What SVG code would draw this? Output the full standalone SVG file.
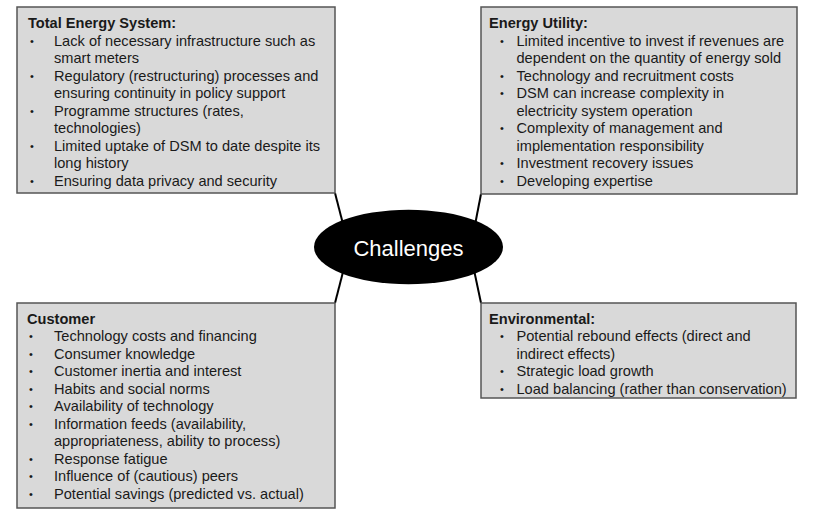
<svg xmlns="http://www.w3.org/2000/svg" width="813" height="520" viewBox="0 0 813 520">
<style>
.box{fill:#d9d9d9;stroke:#555;stroke-width:1.5}
text{font-family:"Liberation Sans",Arial,sans-serif;font-size:14.6px;fill:#1a1a1a}
.t{font-weight:bold}
.b{font-size:11px}
.conn{stroke:#000;stroke-width:2;fill:none}
.c{fill:#fff;font-size:22px;text-anchor:middle}
</style>
<rect width="813" height="520" fill="#fff"/>
<g id="connectors">
<line class="conn" x1="335" y1="193" x2="343" y2="224"/>
<line class="conn" x1="481" y1="194" x2="474" y2="230"/>
<line class="conn" x1="335" y1="303" x2="343" y2="272"/>
<line class="conn" x1="481" y1="303" x2="474" y2="270"/>
</g>
<g id="challenges">
<ellipse cx="408.5" cy="247" rx="94.5" ry="37.3" fill="#000"/>
<text class="c" x="408.5" y="256">Challenges</text>
</g>
<g id="total-energy-system">
<rect class="box" x="17" y="7" width="318" height="186"/>
<text class="t" x="28" y="28">Total Energy System:</text>
<text class="b" x="30" y="44.5">•</text><text x="54" y="45.5">Lack of necessary infrastructure such as</text>
<text x="54" y="63">smart meters</text>
<text class="b" x="30" y="79.5">•</text><text x="54" y="80.5">Regulatory (restructuring) processes and</text>
<text x="54" y="98">ensuring continuity in policy support</text>
<text class="b" x="30" y="114.5">•</text><text x="54" y="115.5">Programme structures (rates,</text>
<text x="54" y="133">technologies)</text>
<text class="b" x="30" y="149.5">•</text><text x="54" y="150.5">Limited uptake of DSM to date despite its</text>
<text x="54" y="168">long history</text>
<text class="b" x="30" y="184.5">•</text><text x="54" y="185.5">Ensuring data privacy and security</text>
</g>
<g id="energy-utility">
<rect class="box" x="481" y="7" width="316" height="187"/>
<text class="t" x="489" y="28">Energy Utility:</text>
<text class="b" x="500" y="44.5">•</text><text x="516.5" y="45.5">Limited incentive to invest if revenues are</text>
<text x="516.5" y="63">dependent on the quantity of energy sold</text>
<text class="b" x="500" y="79.5">•</text><text x="516.5" y="80.5">Technology and recruitment costs</text>
<text class="b" x="500" y="97">•</text><text x="516.5" y="98">DSM can increase complexity in</text>
<text x="516.5" y="115.5">electricity system operation</text>
<text class="b" x="500" y="132">•</text><text x="516.5" y="133">Complexity of management and</text>
<text x="516.5" y="150.5">implementation responsibility</text>
<text class="b" x="500" y="167">•</text><text x="516.5" y="168">Investment recovery issues</text>
<text class="b" x="500" y="184.5">•</text><text x="516.5" y="185.5">Developing expertise</text>
</g>
<g id="customer">
<rect class="box" x="17" y="303" width="318" height="205"/>
<text class="t" x="27" y="323.5">Customer</text>
<text class="b" x="29" y="340">•</text><text x="54" y="341">Technology costs and financing</text>
<text class="b" x="29" y="357.5">•</text><text x="54" y="358.5">Consumer knowledge</text>
<text class="b" x="29" y="375">•</text><text x="54" y="376">Customer inertia and interest</text>
<text class="b" x="29" y="392.5">•</text><text x="54" y="393.5">Habits and social norms</text>
<text class="b" x="29" y="410">•</text><text x="54" y="411">Availability of technology</text>
<text class="b" x="29" y="427.5">•</text><text x="54" y="428.5">Information feeds (availability,</text>
<text x="54" y="446">appropriateness, ability to process)</text>
<text class="b" x="29" y="462.5">•</text><text x="54" y="463.5">Response fatigue</text>
<text class="b" x="29" y="480">•</text><text x="54" y="481">Influence of (cautious) peers</text>
<text class="b" x="29" y="497.5">•</text><text x="54" y="498.5">Potential savings (predicted vs. actual)</text>
</g>
<g id="environmental">
<rect class="box" x="481" y="303" width="315" height="95"/>
<text class="t" x="489" y="323.5">Environmental:</text>
<text class="b" x="500" y="340">•</text><text x="516.5" y="341">Potential rebound effects (direct and</text>
<text x="516.5" y="358.5">indirect effects)</text>
<text class="b" x="500" y="375">•</text><text x="516.5" y="376">Strategic load growth</text>
<text class="b" x="500" y="392.5">•</text><text x="516.5" y="393.5">Load balancing (rather than conservation)</text>
</g>
</svg>
